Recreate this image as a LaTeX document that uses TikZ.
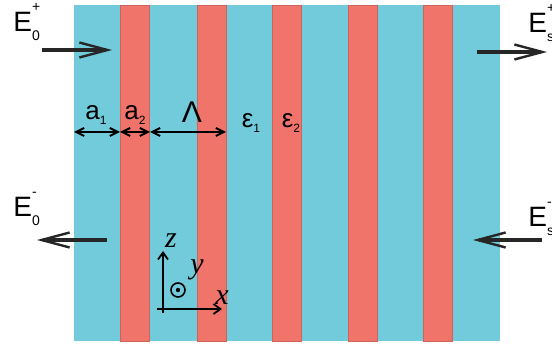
\documentclass[tikz,border=0pt]{standalone}
\usepackage{fontspec}
\setmainfont{Liberation Sans}
\newfontfamily\axisfont{Liberation Serif}
\usetikzlibrary{arrows.meta}
\definecolor{layerblue}{HTML}{71CBDB}
\definecolor{layerred}{HTML}{F1746B}
\newcommand{\efield}[2]{E\rlap{\raisebox{10pt}{\fontsize{7}{7}\selectfont#2}}\raisebox{-4.5pt}{\fontsize{7}{7}\selectfont#1}}
\newcommand{\lsub}[1]{\raisebox{-2.5pt}{\fontsize{6}{6}\selectfont#1}}

\begin{document}
\begin{tikzpicture}[x=0.5pt, y=-0.5pt,
    field/.style={draw=black!85, line width=1.6pt, -{Straight Barb[length=14pt, width=7.5pt, line width=1.2pt]}},
    dim/.style={line width=1pt, {Straight Barb[length=4pt, width=4pt]}-{Straight Barb[length=4pt, width=4pt]}},
    axis/.style={line width=0.9pt, -{Straight Barb[length=3.5pt, width=5pt]}},
    lbl/.style={anchor=base, inner sep=0pt},
    elbl/.style={anchor=base west, inner sep=0pt, font=\fontsize{14}{14}\selectfont}
]
\clip (0,0) rectangle (552,347);
% layers
\fill[layerblue] (74,5) rectangle (500,341);
\foreach \xs in {120,197,272,348,423}
    \fill[layerred, draw=layerred!85!black, line width=0.3pt] (\xs,5) rectangle ++(29.5,336);
% incident, reflected and transmitted fields
\coordinate (inA) at (42,50);   \coordinate (inB) at (112,50);
\coordinate (rfA) at (107,240); \coordinate (rfB) at (37,240);
\coordinate (trA) at (477,52);  \coordinate (trB) at (547,52);
\coordinate (bkA) at (542,240); \coordinate (bkB) at (473,240);
\draw[field] (inA) -- (inB);
\draw[field] (rfA) -- (rfB);
\draw[field] (trA) -- (trB);
\draw[field] (bkA) -- (bkB);
\node[elbl] (ein) at (13,32) {\efield{0}{+}};
\node[elbl] (erf) at (13,217) {\efield{0}{-}};
\node[elbl] (etr) at (528,33) {\efield{s}{+}};
\node[elbl] (ebk) at (528,227) {\efield{s}{-}};
% widths
\coordinate (b0) at (74,132);  \coordinate (b1) at (120,132);
\coordinate (b2) at (150,132); \coordinate (b3) at (226,132);
\draw[dim] (b0) -- (b1);
\draw[dim] (b1) -- (b2);
\draw[dim] (b2) -- (b3);
\node[lbl, font=\fontsize{13}{13}\selectfont] (wa1) at (96,120) {a\lsub{1}};
\node[lbl, font=\fontsize{13}{13}\selectfont] (wa2) at (135,120) {a\lsub{2}};
\node[lbl, font=\fontsize{15}{15}\selectfont] (wper) at (192,123) {Λ};
\node[lbl, font=\fontsize{13}{13}\selectfont] (eps1) at (251,128) {ε\lsub{1}};
\node[lbl, font=\fontsize{13}{13}\selectfont] (eps2) at (291,128) {ε\lsub{2}};
% axes
\coordinate (oz) at (163,313); \coordinate (tz) at (163,251);
\coordinate (ox) at (157,309); \coordinate (tx) at (222,309);
\draw[axis] (oz) -- (tz);
\draw[axis] (ox) -- (tx);
\node[draw, circle, line width=0.8pt, minimum size=7pt, inner sep=0pt] (ycirc) at (178,290) {};
\fill (ycirc.center) circle[radius=1.1pt];
\node[lbl, font=\axisfont\itshape\fontsize{15}{15}\selectfont] (lz) at (171,248) {z};
\node[lbl, font=\axisfont\itshape\fontsize{15}{15}\selectfont] (ly) at (197,274) {y};
\node[lbl, font=\axisfont\itshape\fontsize{15}{15}\selectfont] (lx) at (222,305) {x};
\end{tikzpicture}
\end{document}
